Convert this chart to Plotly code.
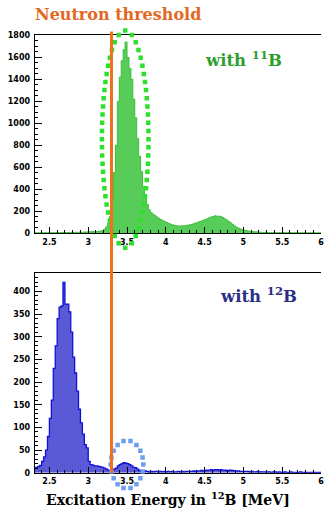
import numpy as np
import plotly.graph_objects as go

# ---------------- data ----------------
bin_start = 2.3
bin_width = 0.025

# counts "with 11B" (top panel)
counts_11B = [
    2, 1, 2, 2, 1, 2, 3, 2, 2, 3,
    2, 3, 3, 2, 3, 4, 3, 4, 4, 5,
    5, 6, 5, 7, 6, 8, 8, 9, 10, 11,
    12, 11, 13, 15, 17, 22, 35, 55, 90, 150,
    300, 550, 800, 1200, 1420, 1570, 1670, 1740, 1600, 1500,
    1400, 1220, 1050, 860, 700, 560, 420, 330, 260, 210,
    185, 170, 158, 145, 132, 122, 112, 104, 96, 88,
    80, 74, 70, 66, 64, 62, 66, 64, 68, 72,
    74, 78, 84, 90, 96, 104, 110, 116, 122, 130,
    138, 146, 150, 156, 152, 154, 148, 140, 128, 118,
    104, 92, 78, 64, 52, 44, 36, 30, 26, 22,
    18, 15, 13, 11, 10, 8, 7, 6, 5, 5,
    4, 4, 3, 4, 3, 3, 3, 2, 3, 2,
    2, 3, 2, 2, 2, 1, 2, 2, 1, 2,
    1, 1, 2, 1, 1, 1, 1, 1,
]

# counts "with 12B" (bottom panel)
counts_12B = [
    10, 12, 14, 16, 25, 35, 50, 80, 120, 160,
    230, 280, 340, 365, 368, 420, 372, 372, 355, 310,
    255, 220, 180, 140, 110, 85, 62, 55, 25, 18,
    17, 15, 15, 14, 13, 12, 10, 8, 6, 5,
    6, 8, 10, 15, 18, 20, 22, 21, 20, 18,
    15, 12, 11, 8, 5, 3, 3, 4, 3, 2,
    3, 2, 3, 3, 2, 3, 2, 3, 2, 3,
    2, 3, 2, 2, 3, 2, 3, 2, 3, 3,
    3, 3, 4, 3, 4, 4, 5, 4, 5, 6,
    6, 7, 6, 7, 7, 6, 7, 6, 6, 5,
    5, 6, 5, 4, 4, 4, 3, 3, 3, 3,
    3, 2, 3, 2, 2, 3, 2, 2, 2, 2,
    2, 2, 1, 2, 2, 1, 2, 1, 1, 2,
    1, 1, 2, 1, 1, 1, 1, 2, 1, 1,
    1, 1, 1, 1, 1, 1, 1, 1,
]

neutron_threshold = 3.3  # MeV

x_ticks = [2.5, 3, 3.5, 4, 4.5, 5, 5.5, 6]
x_ticktext = ["2.5", "3", "3.5", "4", "4.5", "5", "5.5", "6"]

# highlighted regions (ellipses): centre x, centre y, half-width x, half-height y
ell_top = dict(cx=3.477, cy=855, rx=0.30, ry=989, n=56)
ell_bot = dict(cx=3.50, cy=18, rx=0.21, ry=53, n=18)

# ---------------- layout geometry ----------------
W, H = 324, 520
x_range = [2.31, 6.0]
top_range = [0, 1800]
bot_range = [0, 440]
x_dom = [35 / W, 1.0]
top_dom = [1 - 233 / H, 1 - 32 / H]
bot_dom = [1 - 477 / H, 1 - 274 / H]
EXT = 28  # px of extra room for the highlight overlays


def step_xy(counts):
    edges = bin_start + bin_width * np.arange(len(counts) + 1)
    ys = list(counts) + [counts[-1]]
    return edges, ys


def ellipse_pts(e, xscale, yscale):
    t = np.linspace(0, 2 * np.pi, 2000)
    px = e["rx"] * xscale * np.cos(t)
    py = e["ry"] * yscale * np.sin(t)
    seg = np.hypot(np.diff(px), np.diff(py))
    s = np.concatenate([[0], np.cumsum(seg)])
    targets = np.linspace(0, s[-1], e["n"], endpoint=False)
    tt = np.interp(targets, s, t)
    xs = e["cx"] + e["rx"] * np.cos(tt)
    ys = e["cy"] + e["ry"] * np.sin(tt)
    return xs, ys


xpx = (x_dom[1] - x_dom[0]) * W / (x_range[1] - x_range[0])
ytop_px = (top_dom[1] - top_dom[0]) * H / (top_range[1] - top_range[0])
ybot_px = (bot_dom[1] - bot_dom[0]) * H / (bot_range[1] - bot_range[0])

# overlay axes with the same scale but extra room, so highlight dots aren't clipped
top_dom_ext = [top_dom[0] - EXT / H, top_dom[1] + EXT / H]
top_range_ext = [top_range[0] - EXT / ytop_px, top_range[1] + EXT / ytop_px]
bot_dom_ext = [bot_dom[0] - EXT / H, bot_dom[1] + EXT / H]
bot_range_ext = [bot_range[0] - EXT / ybot_px, bot_range[1] + EXT / ybot_px]

fig = go.Figure()

ex, ey = step_xy(counts_11B)
fig.add_trace(go.Scatter(
    x=ex, y=ey, mode="lines", line=dict(shape="hv", color="#3DBE3D", width=1),
    fill="tozeroy", fillcolor="#58CC58", xaxis="x", yaxis="y", hoverinfo="skip",
    showlegend=False))

ex, ey = step_xy(counts_12B)
fig.add_trace(go.Scatter(
    x=ex, y=ey, mode="lines", line=dict(shape="hv", color="#1010D8", width=1.3),
    fill="tozeroy", fillcolor="#5A5AD6", xaxis="x2", yaxis="y2", hoverinfo="skip",
    showlegend=False))

gx, gy = ellipse_pts(ell_top, xpx, ytop_px)
fig.add_trace(go.Scatter(
    x=gx, y=gy, mode="markers", marker=dict(color="#2EE02E", size=4.5, symbol="square"),
    xaxis="x", yaxis="y3", hoverinfo="skip", showlegend=False))

bx, by = ellipse_pts(ell_bot, xpx, ybot_px)
fig.add_trace(go.Scatter(
    x=bx, y=by, mode="markers", marker=dict(color="#6E9EF0", size=4.5, symbol="square"),
    xaxis="x2", yaxis="y4", hoverinfo="skip", showlegend=False))

tickfont = dict(family="DejaVu Sans", size=8, color="black", weight="bold")

xcommon = dict(range=x_range, domain=x_dom, tickvals=x_ticks, ticktext=x_ticktext,
               ticks="inside", ticklen=6, tickwidth=1, tickcolor="black",
               minor=dict(dtick=0.1, tick0=2.5, ticks="inside", ticklen=3, tickcolor="black"),
               showline=True, linecolor="black", linewidth=1, mirror=True,
               showgrid=False, zeroline=False, tickfont=tickfont, ticklabelstandoff=1,
               ticklabeloverflow="allow")

title_font = "DejaVu Serif"

fig.update_layout(
    width=W, height=H,
    margin=dict(l=0, r=0, t=0, b=0),
    paper_bgcolor="white", plot_bgcolor="rgba(0,0,0,0)",
    xaxis=dict(anchor="y", **xcommon),
    xaxis2=dict(anchor="y2", **xcommon),
    yaxis=dict(domain=top_dom, range=top_range, anchor="x", dtick=200,
               ticks="inside", ticklen=7, tickcolor="black",
               minor=dict(dtick=50, ticks="inside", ticklen=3, tickcolor="black"),
               showline=True, linecolor="black", linewidth=1,
               showgrid=False, zeroline=False, tickfont=tickfont, ticklabelstandoff=2),
    yaxis2=dict(domain=bot_dom, range=bot_range, anchor="x2", dtick=50,
                ticks="inside", ticklen=7, tickcolor="black",
                minor=dict(dtick=10, ticks="inside", ticklen=3, tickcolor="black"),
                showline=True, linecolor="black", linewidth=1,
                showgrid=False, zeroline=False, tickfont=tickfont, ticklabelstandoff=2),
    yaxis3=dict(domain=top_dom_ext, range=top_range_ext, anchor="x", visible=False,
                showgrid=False, zeroline=False),
    yaxis4=dict(domain=bot_dom_ext, range=bot_range_ext, anchor="x2", visible=False,
                showgrid=False, zeroline=False),
    shapes=[dict(type="line", xref="x", yref="paper",
                 x0=neutron_threshold, x1=neutron_threshold,
                 y0=1 - 477 / H, y1=1 - 28 / H,
                 line=dict(color="#F07020", width=3), layer="above")],
    annotations=[
        dict(text="<b>Neutron threshold</b>", xref="paper", yref="paper",
             x=119 / W, y=1 - 11 / H, xanchor="center", yanchor="middle", showarrow=False,
             font=dict(family=title_font, size=16, color="#E2691F")),
        dict(text="<b>with <sup>11</sup>B</b>", xref="paper", yref="paper",
             x=246 / W, y=1 - 56 / H, xanchor="center", yanchor="middle", showarrow=False,
             font=dict(family=title_font, size=16.5, color="#2E9E2E")),
        dict(text="<b>with <sup>12</sup>B</b>", xref="paper", yref="paper",
             x=261 / W, y=1 - 296 / H, xanchor="center", yanchor="middle", showarrow=False,
             font=dict(family=title_font, size=16.5, color="#2A2E85")),
        dict(text="<b>Excitation Energy in <sup>12</sup>B [MeV]</b>", xref="paper", yref="paper",
             x=170 / W, y=1 - 504 / H, xanchor="center", yanchor="middle", showarrow=False,
             font=dict(family=title_font, size=14, color="black")),
    ],
)

fig.write_html("out.html", config={"displayModeBar": False},
               post_script="document.body.style.margin='0px';")
